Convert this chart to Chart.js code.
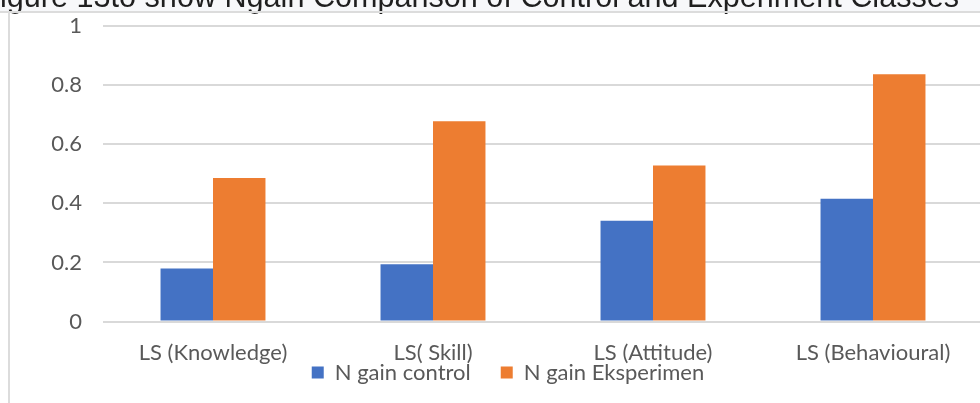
<!DOCTYPE html>
<html>
<head>
<meta charset="utf-8">
<script src="https://cdn.jsdelivr.net/npm/chart.js@4/dist/chart.umd.min.js"></script>
<style>
  html, body { margin: 0; padding: 0; background: #fff; overflow: hidden; }
  #wrap { position: relative; width: 990px; height: 403px; }
</style>
</head>
<body>
<div id="wrap"><canvas id="myChart" width="990" height="403"></canvas></div>
<script>
// data
var categories = ["LS (Knowledge)", "LS( Skill)", "LS (Attitude)", "LS (Behavioural)"];
var controlValues = [0.18, 0.194, 0.341, 0.416];
var experimentValues = [0.486, 0.678, 0.528, 0.837];
var seriesNames = ["N gain control", "N gain Eksperimen"];
var yTicks = [0, 0.2, 0.4, 0.6, 0.8, 1];
var titleText = "igure 13to show Ngain Comparison of Control and Experiment Classes";

var textGrey = "#595959";
var legendGap = 30;

// the cut off caption band on top and the frame line on the left
var frame = {
	id: "frame",
	beforeDraw: function(chart) {
		var ctx = chart.ctx;
		ctx.save();
		ctx.fillStyle = "#f7f8fa";
		ctx.fillRect(0, 0, chart.width, 11);
		ctx.fillStyle = "#1f1f1f";
		ctx.font = "30.6px 'Liberation Sans', Arial, sans-serif";
		ctx.textBaseline = "alphabetic";
		ctx.fillText(titleText, 0, 7);
		ctx.fillStyle = "#dcdcdc";
		ctx.fillRect(0, 11, chart.width, 2);
		ctx.fillRect(8, 12, 2, chart.height - 12);
		ctx.restore();
	}
};

// legend sits tight under the category labels, pull its top up
var liftLegend = {
	id: "liftLegend",
	afterLayout: function(chart) {
		if (chart.legend) {
			chart.legend.top = chart.chartArea.bottom + 40 - legendGap;
			chart.legend.bottom = chart.height + 40;
		}
	}
};

new Chart("myChart", {
	type: "bar",
	data: {
		labels: categories,
		datasets: [
			{
				label: seriesNames[0],
				data: controlValues,
				backgroundColor: "#4472C4",
				categoryPercentage: 0.477,
				barPercentage: 1
			},
			{
				label: seriesNames[1],
				data: experimentValues,
				backgroundColor: "#ED7D31",
				categoryPercentage: 0.477,
				barPercentage: 1
			}
		]
	},
	plugins: [frame, liftLegend],
	options: {
		responsive: false,
		animation: false,
		layout: { padding: { left: 33, right: 7, top: 26, bottom: -11 } },
		scales: {
			x: {
				grid: { display: false, drawTicks: false },
				border: { display: false },
				ticks: {
					color: textGrey,
					font: { family: "Lato", size: 22 },
					padding: 18,
					maxRotation: 0
				}
			},
			y: {
				min: 0,
				max: 1,
				afterBuildTicks: function(scale) {
					scale.ticks = yTicks.map(function(v) { return { value: v }; });
				},
				grid: { color: "#d9d9d9", lineWidth: 2, drawTicks: false },
				border: { display: false },
				ticks: {
					color: textGrey,
					font: { family: "Lato", size: 22 },
					padding: 21,
					callback: function(v) { return String(Math.round(v * 10) / 10); }
				},
				afterFit: function(scale) {
					scale.width = 70;
					scale.paddingTop = 0;
					scale.paddingBottom = 0;
				}
			}
		},
		plugins: {
			legend: {
				position: "bottom",
				maxHeight: 30,
				labels: {
					color: textGrey,
					font: { family: "Lato", size: 22 },
					boxWidth: 12,
					boxHeight: 12,
					padding: legendGap
				}
			},
			tooltip: { enabled: false }
		}
	}
});
</script>
</body>
</html>
